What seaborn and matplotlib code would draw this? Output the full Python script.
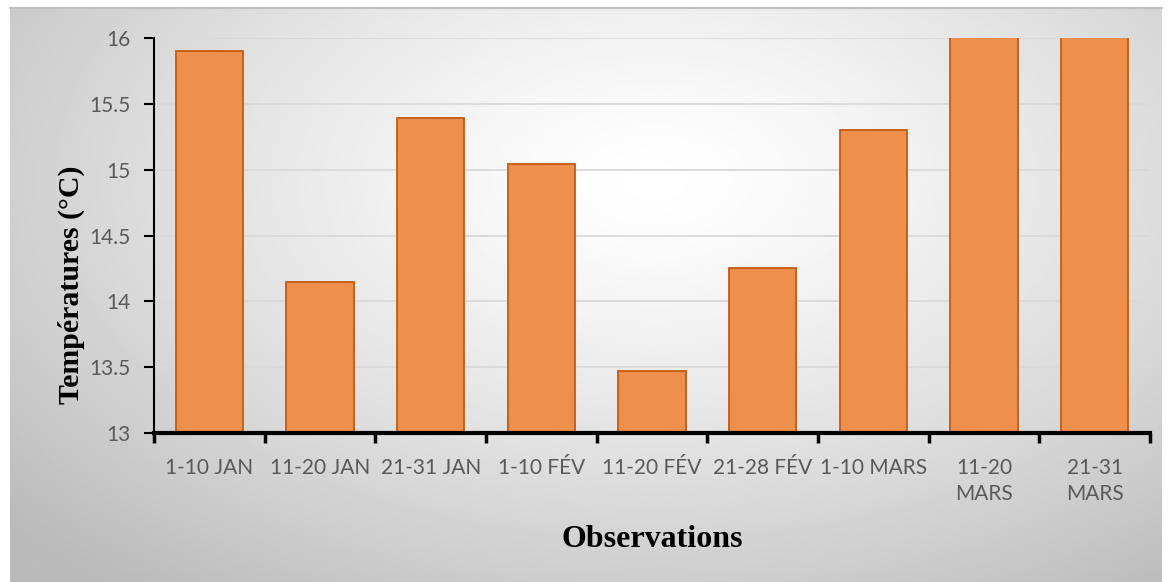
import numpy as np
import pandas as pd
import seaborn as sns
import matplotlib.pyplot as plt

periodes = ["1-10 JAN", "11-20 JAN", "21-31 JAN", "1-10 FÉV", "11-20 FÉV",
            "21-28 FÉV", "1-10 MARS", "11-20 MARS", "21-31 MARS"]
temperatures = [15.90, 14.15, 15.39, 15.04, 13.47, 14.25, 15.30, 16.30, 16.50]
y_ticks = [13, 13.5, 14, 14.5, 15, 15.5, 16]

df = pd.DataFrame({"Observations": periodes, "Temperature": temperatures})

sns.set_style("white")
plt.rcParams["font.family"] = ["Lato", "DejaVu Sans"]

fig = plt.figure(figsize=(11.7, 5.82), dpi=100)
fig.patch.set_facecolor("white")

# radial grey background like the office chart area
bg = fig.add_axes([10 / 1170, 0, 1152 / 1170, 574 / 582], zorder=0)
yy, xx = np.mgrid[0:1:300j, 0:1:600j]
r = np.sqrt(((xx - 0.56) / 0.75) ** 2 + ((yy - 0.3) / 0.9) ** 2)
shade = 1 - 0.27 * np.clip(r, 0, 1.0) ** 1.3
bg.imshow(shade, cmap="gray", vmin=0, vmax=1, aspect="auto", extent=[0, 1, 0, 1],
          interpolation="bilinear")
bg.axis("off")
fig.add_artist(plt.Line2D([10 / 1170, 1162 / 1170], [574 / 582, 574 / 582],
                          transform=fig.transFigure, color="#BFBFBF", lw=1.5))

ax = fig.add_axes([154 / 1170, 1 - 433 / 582, (1150 - 154) / 1170, (433 - 38) / 582], zorder=1)
ax.set_facecolor("none")

sns.barplot(data=df, x="Observations", y="Temperature", color="#EE8F4C",
            edgecolor="#C55A11", linewidth=1.3, width=0.61, saturation=1, ax=ax)

ax.set_ylim(13, 16)
ax.set_xlim(-0.5, len(periodes) - 0.5)
ax.set_yticks(y_ticks)
ax.set_yticklabels([f"{t:g}" for t in y_ticks])
ax.yaxis.grid(True, color="#D9D9D9", lw=1.3)
ax.set_axisbelow(True)

labels = [p.replace(" MARS", "\nMARS") if p.startswith(("11", "21")) and "MARS" in p else p
          for p in periodes]
ax.set_xticks(range(len(periodes)))
ax.set_xticklabels(labels, color="#595959", fontsize=15, linespacing=1.4, va="top")
ax.set_xticks(np.arange(-0.5, len(periodes)), minor=True)
ax.tick_params(axis="x", which="major", bottom=True, length=0, pad=18)
ax.tick_params(axis="x", which="minor", bottom=True, length=7, width=2.5,
               color="black", direction="out")
ax.tick_params(axis="y", which="major", left=True, length=7, width=1.5, color="black",
               labelcolor="#595959", labelsize=15, pad=10)

for s in ["top", "right"]:
    ax.spines[s].set_visible(False)
ax.spines["left"].set_color("black")
ax.spines["left"].set_linewidth(1.5)
ax.spines["bottom"].set_color("black")
ax.spines["bottom"].set_linewidth(3)

ax.set_ylabel("Températures (°C)", family="Liberation Serif", fontweight="bold",
              fontsize=21.5, color="black")
ax.yaxis.set_label_coords(-0.069, 0.375)
ax.set_xlabel("Observations", family="Liberation Serif", fontweight="bold",
              fontsize=23, color="black")
ax.xaxis.set_label_coords(0.5, -0.233)

fig.savefig("out.png", dpi=100)
